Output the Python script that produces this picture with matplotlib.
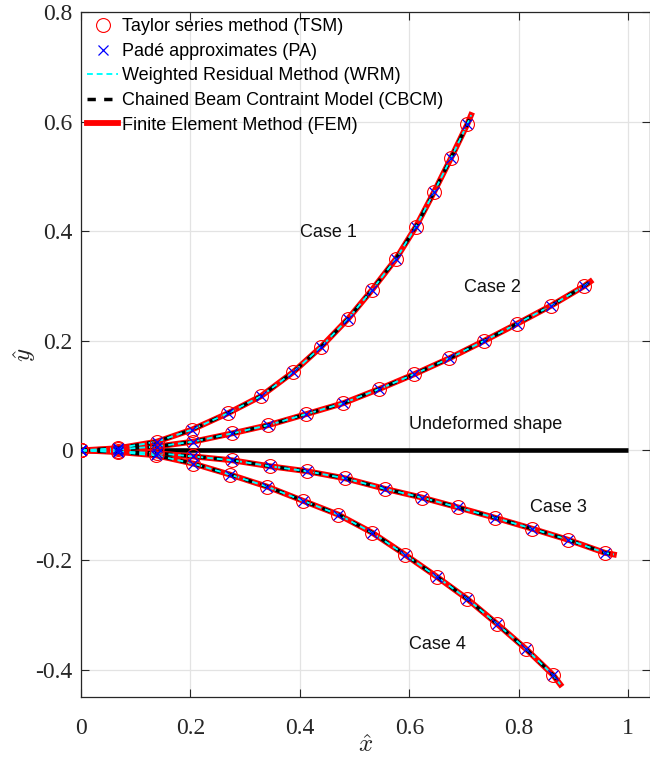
import matplotlib
matplotlib.use('Agg')
import matplotlib.pyplot as plt

# ---- data ----
case1_x = [0, 0.068, 0.139, 0.203, 0.269, 0.329, 0.388, 0.439, 0.488, 0.532, 0.576, 0.612, 0.645, 0.676, 0.706]
case1_y = [0, 0.004, 0.016, 0.038, 0.068, 0.099, 0.143, 0.189, 0.240, 0.293, 0.350, 0.408, 0.471, 0.533, 0.595]
case1_tip = (0.713, 0.612)

case2_x = [0, 0.068, 0.138, 0.205, 0.276, 0.342, 0.411, 0.479, 0.545, 0.609, 0.673, 0.737, 0.797, 0.859, 0.920]
case2_y = [0, 0.002, 0.007, 0.016, 0.031, 0.046, 0.066, 0.086, 0.112, 0.139, 0.168, 0.200, 0.231, 0.264, 0.300]
case2_tip = (0.931, 0.308)

case3_x = [0, 0.068, 0.138, 0.205, 0.276, 0.346, 0.413, 0.483, 0.555, 0.623, 0.689, 0.757, 0.825, 0.890, 0.958]
case3_y = [0, -0.002, -0.005, -0.011, -0.018, -0.029, -0.038, -0.051, -0.070, -0.086, -0.104, -0.123, -0.143, -0.163, -0.187]
case3_tip = (0.974, -0.190)

case4_x = [0, 0.068, 0.137, 0.205, 0.272, 0.340, 0.406, 0.470, 0.532, 0.592, 0.651, 0.706, 0.761, 0.814, 0.863]
case4_y = [0, -0.003, -0.009, -0.024, -0.044, -0.066, -0.092, -0.117, -0.150, -0.190, -0.231, -0.271, -0.317, -0.363, -0.410]
case4_tip = (0.876, -0.427)

undeformed_x = [0, 1]
undeformed_y = [0, 0]

case_labels = ['Case 1', 'Case 2', 'Case 3', 'Case 4', 'Undeformed shape']
case_label_pos = [(0.40, 0.397), (0.70, 0.297), (0.82, -0.104), (0.60, -0.355), (0.60, 0.047)]

legend_labels = ['Taylor series method (TSM)', 'Padé approximates (PA)',
                 'Weighted Residual Method (WRM)', 'Chained Beam Contraint Model (CBCM)',
                 'Finite Element Method (FEM)']

xticks = [0, 0.2, 0.4, 0.6, 0.8, 1]
xticklabels = ['0', '0.2', '0.4', '0.6', '0.8', '1']
yticks = [-0.4, -0.2, 0, 0.2, 0.4, 0.6, 0.8]
yticklabels = ['-0.4', '-0.2', '0', '0.2', '0.4', '0.6', '0.8']

# ---- styling ----
plt.rcParams['mathtext.fontset'] = 'cm'
plt.rcParams['axes.unicode_minus'] = False

fig = plt.figure(figsize=(6.5, 7.58), dpi=100)
ax = fig.add_axes([81/650, 1 - 697/758, (650 - 81)/650, (697 - 12)/758])

ax.plot(undeformed_x, undeformed_y, color='black', lw=3.3, solid_capstyle='butt', zorder=1)

cases = [(case1_x, case1_y, case1_tip), (case2_x, case2_y, case2_tip),
         (case3_x, case3_y, case3_tip), (case4_x, case4_y, case4_tip)]
handles = None
for cx, cy, tip in cases:
    lx = cx + [tip[0]]
    ly = cy + [tip[1]]
    h_fem, = ax.plot(lx, ly, color='red', lw=4.2, zorder=2)
    h_cbcm, = ax.plot(lx, ly, color='black', lw=2.5, dashes=(2.4, 2.4), zorder=3)
    h_wrm, = ax.plot(lx, ly, color='cyan', lw=1.4, dashes=(3, 2), zorder=4)
    h_tsm, = ax.plot(cx, cy, ls='none', marker='o', ms=10, mfc='none', mec='red', mew=0.8, zorder=5)
    h_pa, = ax.plot(cx, cy, ls='none', marker='x', ms=7.5, color='blue', mew=0.9, zorder=6)
    if handles is None:
        handles = [h_tsm, h_pa, h_wrm, h_cbcm, h_fem]

for lab, (tx, ty) in zip(case_labels, case_label_pos):
    ax.text(tx, ty, lab, fontsize=13, family='Liberation Sans', ha='left', va='center', color='#111111')

ax.set_xlim(0, 1.04)
ax.set_ylim(-0.45, 0.8)
ax.set_xticks(xticks)
ax.set_xticklabels(xticklabels)
ax.set_yticks(yticks)
ax.set_yticklabels(yticklabels)
for lbl in ax.get_xticklabels() + ax.get_yticklabels():
    lbl.set_family('Liberation Serif')
    lbl.set_fontsize(17)
    lbl.set_color('#262626')

ax.tick_params(direction='in', length=6, width=0.8, top=True, right=True, color='#262626')
ax.tick_params(axis='x', pad=15)
ax.tick_params(axis='y', pad=6)
ax.grid(True, color='#e3e3e3', lw=0.9)
ax.set_axisbelow(True)
for s in ax.spines.values():
    s.set_color('#262626')
    s.set_linewidth(0.9)

ax.set_xlabel(r'$\hat{x}$', fontsize=18, labelpad=-4, color='#262626')
ax.set_ylabel(r'$\hat{y}$', fontsize=18, labelpad=-2, color='#262626')

leg = ax.legend(handles, legend_labels, loc='upper left', bbox_to_anchor=(0, 1),
                borderaxespad=0, borderpad=0.35, frameon=False, handlelength=1.7,
                handletextpad=0.2, labelspacing=0.42, numpoints=1,
                prop={'family': 'Liberation Sans', 'size': 13})

fig.savefig('out.png', dpi=100)
